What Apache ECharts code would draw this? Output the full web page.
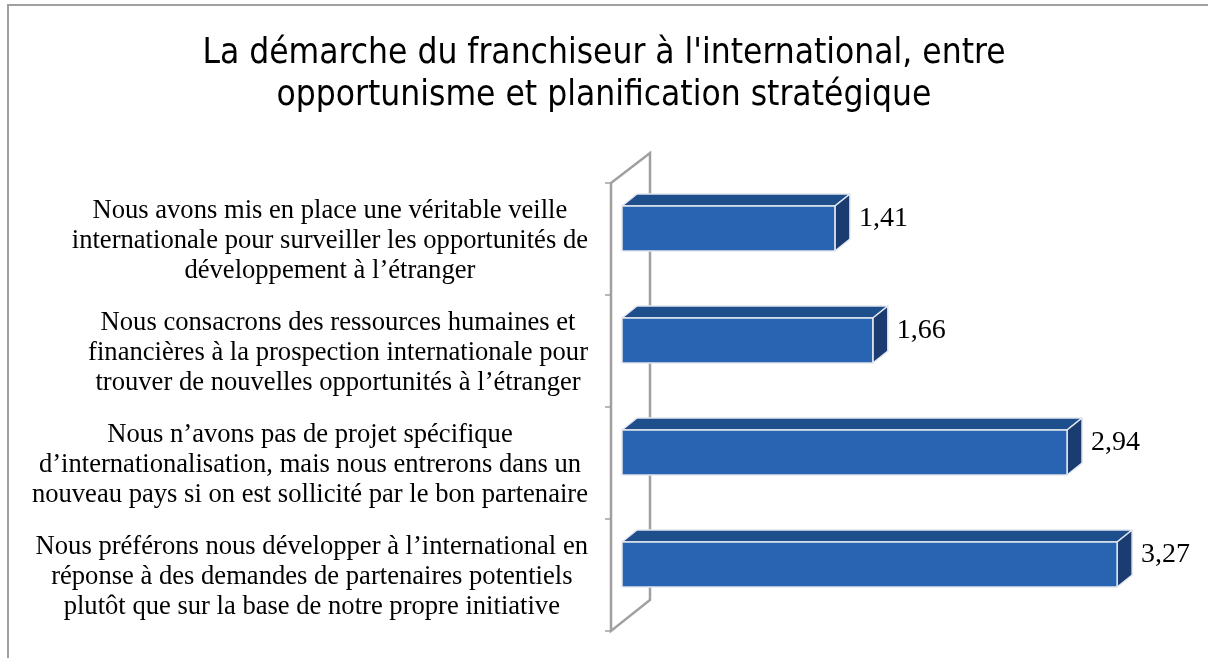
<!DOCTYPE html>
<html lang="fr" style="height: 100%">
<head>
  <meta charset="utf-8">
</head>
<body style="height: 100%; margin: 0; background: #fff">
  <div id="container" style="width: 1208px; height: 658px"></div>

  <script type="text/javascript" src="https://cdn.jsdelivr.net/npm/echarts@6/dist/echarts.min.js"></script>

  <script type="text/javascript">
    var titleText = "La démarche du franchiseur à l'international, entre\nopportunisme et planification stratégique";

    var categories = [
      'Nous avons mis en place une véritable veille\ninternationale pour surveiller les opportunités de\ndéveloppement à l’étranger',
      'Nous consacrons des ressources humaines et\nfinancières à la prospection internationale pour\ntrouver de nouvelles opportunités à l’étranger',
      'Nous n’avons pas de projet spécifique\nd’internationalisation, mais nous entrerons dans un\nnouveau pays si on est sollicité par le bon partenaire',
      'Nous préférons nous développer à l’international en\nréponse à des demandes de partenaires potentiels\nplutôt que sur la base de notre propre initiative'
    ];
    var values = [1.41, 1.66, 2.94, 3.27];

    var dom = document.getElementById('container');
    var myChart = echarts.init(dom, null, { renderer: 'canvas' });

    var SERIF = '"Liberation Serif", "Times New Roman", serif';
    var LABEL_SIZE = 26.6;
    // depth of the fake 3d
    var DX = 15, DY = -12;
    var WALL = '#a0a0a0';

    // width of the longest line of a label, so the text block can be right-aligned
    // while its lines stay centred (like the Excel text box)
    var measureCtx = document.createElement('canvas').getContext('2d');
    measureCtx.font = LABEL_SIZE + 'px ' + SERIF;
    function blockWidth(text) {
      return Math.max.apply(null, text.split('\n').map(function (l) {
        return measureCtx.measureText(l).width;
      }));
    }

    function renderBar(params, api) {
      var v = api.value(0);
      var c = api.coord([0, api.value(1)]);
      var end = api.coord([v, api.value(1)]);
      var x0 = c[0] + 1, x1 = end[0];
      var yt = c[1] - 33, yb = c[1] + 12;
      var stroke = { stroke: '#e4e8ee', lineWidth: 1.5, lineJoin: 'round' };
      return {
        type: 'group',
        children: [
          { type: 'polygon', shape: { points: [[x0, yt], [x0 + DX, yt + DY], [x1 + DX, yt + DY], [x1, yt]] },
            style: Object.assign({ fill: '#1f4e8c' }, stroke) },
          { type: 'polygon', shape: { points: [[x1, yt], [x1 + DX, yt + DY], [x1 + DX, yb + DY], [x1, yb]] },
            style: Object.assign({ fill: '#1b3c70' }, stroke) },
          { type: 'rect', shape: { x: x0, y: yt, width: x1 - x0, height: yb - yt },
            style: Object.assign({ fill: '#2964b2' }, stroke) },
          { type: 'text', x: x1 + DX + 9, y: c[1] - 20,
            style: { text: String(v).replace('.', ','), fill: '#000', fontSize: 28,
              fontFamily: SERIF, verticalAlign: 'middle' } }
        ]
      };
    }

    function renderLabel(params, api) {
      var i = api.value(1);
      var c = api.coord([0, i]);
      var text = categories[i];
      var right = c[0] - 33;
      return {
        type: 'text',
        x: right - blockWidth(text) / 2,
        y: c[1] + 2,
        style: {
          text: text, fill: '#000', fontSize: LABEL_SIZE, lineHeight: 30,
          fontFamily: SERIF, align: 'center', verticalAlign: 'middle'
        }
      };
    }

    // side wall: front edge with ticks, back edge, and the two diagonals
    function renderWall(params, api) {
      if (params.dataIndex !== 0) return;
      var cs = params.coordSys;
      var fx = cs.x - 10, bx = cs.x + 29;
      var top = cs.y, bot = cs.y + cs.height;
      var band = cs.height / categories.length;
      var children = [{
        type: 'polygon',
        shape: { points: [[fx, top], [bx, top - 30], [bx, bot - 31], [fx, bot]] },
        style: { stroke: WALL, lineWidth: 2.5, fill: null }
      }];
      for (var i = 0; i <= categories.length; i++) {
        var y = top + band * i;
        children.push({
          type: 'line',
          shape: { x1: fx - 6, y1: y, x2: fx, y2: y },
          style: { stroke: WALL, lineWidth: 1.5 }
        });
      }
      return { type: 'group', children: children };
    }

    var seriesData = values.map(function (v, i) { return [v, i]; });

    var option = {
      animation: false,
      backgroundColor: '#fff',
      graphic: [{
        type: 'rect', z: -10,
        shape: { x: 8, y: 5, width: 1220, height: 700 },
        style: { fill: '#fff', stroke: '#a0a0a0', lineWidth: 2 }
      }],
      title: {
        text: titleText,
        left: 'center',
        top: 28,
        textStyle: {
          fontFamily: '"DejaVu Sans Condensed", "Liberation Sans Narrow", "Liberation Sans", sans-serif',
          fontSize: 35, fontWeight: 'normal', color: '#000', lineHeight: 42
        }
      },
      grid: { left: 621, right: 56, top: 183, bottom: 27 },
      xAxis: { type: 'value', min: 0, max: 3.5, show: false },
      yAxis: {
        type: 'category',
        data: categories,
        inverse: true,
        axisLine: { show: false },
        axisTick: { show: false },
        axisLabel: { show: false }
      },
      series: [
        { type: 'custom', renderItem: renderWall, z: 1, data: seriesData, encode: { x: 0, y: 1 } },
        { type: 'custom', renderItem: renderLabel, z: 1, data: seriesData, encode: { x: 0, y: 1 } },
        { type: 'custom', renderItem: renderBar, z: 2, data: seriesData, encode: { x: 0, y: 1 } }
      ]
    };

    myChart.setOption(option);
    window.addEventListener('resize', myChart.resize);
  </script>
</body>
</html>
